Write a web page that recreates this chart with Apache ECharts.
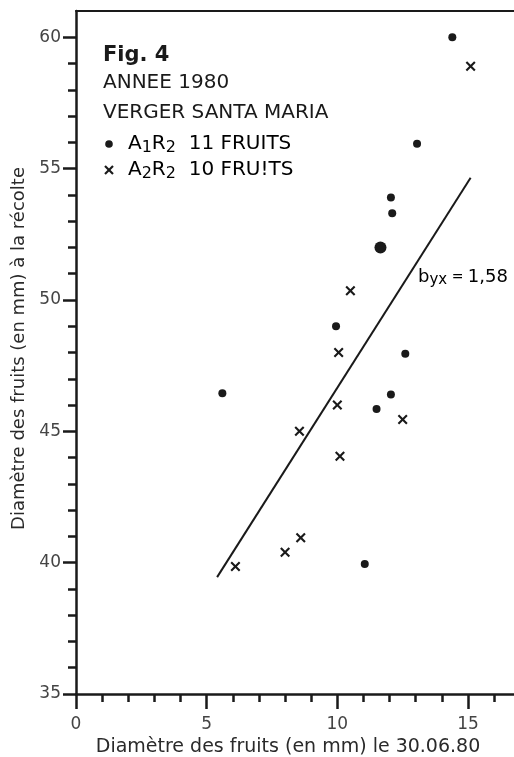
<!DOCTYPE html>
<html>
<head>
<meta charset="utf-8">
<script src="https://cdn.jsdelivr.net/npm/echarts@6/dist/echarts.min.js"></script>
<style>
html, body { margin: 0; padding: 0; background: #fff; }
#fig { width: 514px; height: 757px; }
</style>
</head>
<body>
<div id="fig"></div>
<script>
// diametre le 30.06.80 (x) / diametre a la recolte (y), en mm
var pointsA1R2 = [[14.4, 60.0], [13.05, 55.95], [12.05, 53.9], [12.1, 53.3], [11.65, 52.0],
    [9.95, 49.0], [12.6, 47.95], [5.6, 46.45], [12.05, 46.4], [11.5, 45.85], [11.05, 39.95]];
var pointsA2R2 = [[15.1, 58.9], [10.5, 50.35], [10.05, 48.0], [10.0, 46.0], [12.5, 45.45],
    [8.55, 45.0], [10.1, 44.05], [8.6, 40.95], [8.0, 40.4], [6.1, 39.85]];
var regression = [[5.4, 39.45], [15.1, 54.65]];

var xMajor = [0, 5, 10, 15];
var xMinor = [1, 2, 3, 4, 6, 7, 8, 9, 11, 12, 13, 14, 16];
var yMajor = [35, 40, 45, 50, 55, 60];
var yMinor = [36, 37, 38, 39, 41, 42, 43, 44, 46, 47, 48, 49, 51, 52, 53, 54, 56, 57, 58, 59];

var ink = '#1a1a1a';
var font = '"DejaVu Sans", "Liberation Sans", sans-serif';
var xMax = 16.76, yMin = 35, yMax = 61;

var crossPath = 'path://M1.5,0L5,3.5L8.5,0L10,1.5L6.5,5L10,8.5L8.5,10L5,6.5L1.5,10L0,8.5L3.5,5L0,1.5Z';

var myChart = echarts.init(document.getElementById('fig'));

var axisLine = { show: true, lineStyle: { color: ink, width: 2.5 } };
var noAxis = { show: false };

var rich = {
    n: { fontFamily: font, fontSize: 20, lineHeight: 24, color: ink },
    s: { fontFamily: font, fontSize: 16, lineHeight: 14, verticalAlign: 'bottom', color: ink }
};

myChart.setOption({
    animation: false,
    grid: { left: 76, right: 0, top: 11, bottom: 63, outerBoundsMode: 'none', containLabel: false },
    xAxis: [{
        type: 'value', min: 0, max: xMax, position: 'bottom',
        axisLine: axisLine,
        axisTick: { show: true, customValues: xMajor, length: 15, lineStyle: { color: ink, width: 2.5 } },
        axisLabel: { customValues: xMajor, margin: 22, fontSize: 17, fontFamily: font, color: '#444' },
        splitLine: noAxis,
        name: 'Diamètre des fruits (en mm) le 30.06.80',
        nameLocation: 'middle', nameGap: 42,
        nameTextStyle: { fontSize: 19, fontFamily: font, color: '#2a2a2a', padding: [0, 14, 0, 0] }
    }, {
        type: 'value', min: 0, max: xMax, position: 'bottom',
        axisLine: noAxis,
        axisTick: { show: true, customValues: xMinor, length: 8, lineStyle: { color: ink, width: 2.5 } },
        axisLabel: noAxis, splitLine: noAxis
    }, {
        type: 'value', min: 0, max: xMax, position: 'top',
        axisLine: { show: true, lineStyle: { color: ink, width: 2 } },
        axisTick: noAxis, axisLabel: noAxis, splitLine: noAxis
    }],
    yAxis: [{
        type: 'value', min: yMin, max: yMax, position: 'left',
        axisLine: axisLine,
        axisTick: { show: true, customValues: yMajor, length: 13, lineStyle: { color: ink, width: 2.5 } },
        axisLabel: { customValues: yMajor, margin: 15, fontSize: 17, fontFamily: font, color: '#444' },
        splitLine: noAxis,
        name: 'Diamètre des fruits (en mm) à la récolte',
        nameLocation: 'middle', nameGap: 47,
        nameTextStyle: { fontSize: 18, fontFamily: font, color: '#2a2a2a', padding: [0, 0, 0, 8] }
    }, {
        type: 'value', min: yMin, max: yMax, position: 'left',
        axisLine: noAxis,
        axisTick: { show: true, customValues: yMinor, length: 8, lineStyle: { color: ink, width: 2.5 } },
        axisLabel: noAxis, splitLine: noAxis
    }],
    series: [{
        name: 'A1R2',
        type: 'scatter',
        data: pointsA1R2,
        symbol: 'circle',
        symbolSize: function (v, p) {
            return p.dataIndex === 4 ? 12 : 8;
        },
        itemStyle: { color: ink, opacity: 1 }
    }, {
        name: 'A2R2',
        type: 'scatter',
        data: pointsA2R2,
        symbol: crossPath,
        symbolSize: 10,
        itemStyle: { color: ink, opacity: 1 }
    }, {
        name: 'byx',
        type: 'line',
        data: regression,
        symbol: 'none',
        silent: true,
        lineStyle: { color: ink, width: 2 }
    }],
    graphic: [{
        type: 'text', x: 103, y: 56,
        style: { text: 'Fig. 4', font: 'bold 21px ' + font, fill: ink, verticalAlign: 'middle' }
    }, {
        type: 'text', x: 103, y: 83,
        style: { text: 'ANNEE 1980', font: '20px ' + font, fill: ink, verticalAlign: 'middle' }
    }, {
        type: 'text', x: 103, y: 113,
        style: { text: 'VERGER SANTA MARIA', font: '20px ' + font, fill: ink, verticalAlign: 'middle' }
    }, {
        type: 'circle', shape: { cx: 109, cy: 144, r: 3.8 },
        style: { fill: ink }
    }, {
        type: 'text', x: 128, y: 144,
        style: { text: '{n|A}{s|1}{n|R}{s|2}{n|  11 FRUITS}', rich: rich, verticalAlign: 'middle' }
    }, {
        type: 'polyline', shape: { points: [[105, 166], [113, 174]] },
        style: { stroke: ink, lineWidth: 2.2 }
    }, {
        type: 'polyline', shape: { points: [[113, 166], [105, 174]] },
        style: { stroke: ink, lineWidth: 2.2 }
    }, {
        type: 'text', x: 128, y: 170,
        style: { text: '{n|A}{s|2}{n|R}{s|2}{n|  10 FRU!TS}', rich: rich, verticalAlign: 'middle' }
    }, {
        type: 'text', x: 418, y: 277,
        style: {
            text: '{b|b}{s|yx}{e| = }{b|1,58}',
            verticalAlign: 'middle',
            rich: {
                b: { fontFamily: font, fontSize: 18, lineHeight: 22, color: ink },
                e: { fontFamily: font, fontSize: 14, lineHeight: 22, color: ink },
                s: { fontFamily: font, fontSize: 15, lineHeight: 12, verticalAlign: 'bottom', color: ink }
            }
        }
    }]
});
</script>
</body>
</html>
